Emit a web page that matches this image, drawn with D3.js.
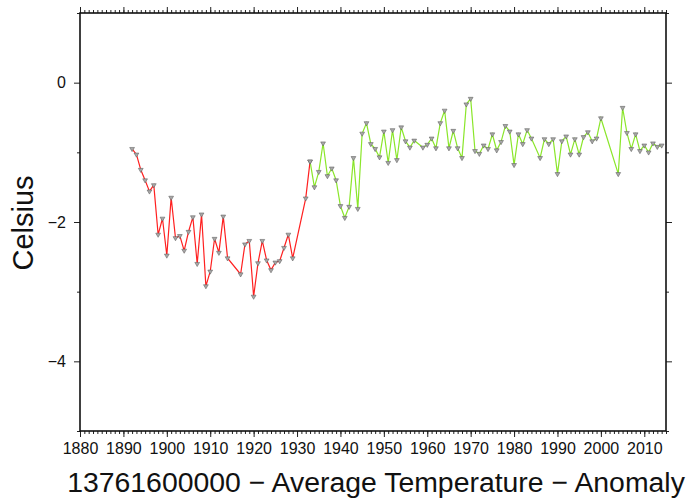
<!DOCTYPE html>
<html>
<head>
<meta charset="utf-8">
<script src="https://cdn.jsdelivr.net/npm/d3@7"></script>
<style>
  body{margin:0;background:#fff;}
  text{font-family:"Liberation Sans",Arial,Helvetica,sans-serif;fill:#111;}
</style>
</head>
<body>
<svg id="chart" width="686" height="502"></svg>
<script>
// 数据 - 红色段 (早期)
var redYears = [1892,1893,1894,1895,1896,1897,1898,1899,1900,1901,1902,1903,1904,1905,1906,1907,1908,1909,1910,1911,1912,1913,1914,
                1917,1918,1919,1920,1921,1922,1923,1924,1925,1926,1927,1928,1929,1932,1933];
var redTemps = [-0.95,-1.03,-1.25,-1.40,-1.56,-1.47,-2.18,-1.95,-2.48,-1.65,-2.23,-2.20,-2.41,-2.14,-1.93,-2.60,-1.89,-2.92,-2.71,-2.24,-2.44,-1.92,-2.52,
                -2.75,-2.32,-2.27,-3.07,-2.59,-2.27,-2.55,-2.69,-2.58,-2.56,-2.37,-2.18,-2.52,-1.66,-1.13];
// 数据 - 绿色段
var greenYears = [1933,1934,1935,1936,1937,1938,1939,1940,1941,1942,1943,1944,1945,1946,1947,1948,1949,1950,1951,1952,1953,1954,1955,1956,1957,
                  1959,1960,1961,1962,1963,1964,1965,1966,1967,1968,1969,1970,1971,1972,1973,1974,1975,1976,1977,1978,1979,1980,1981,1982,1983,1984,
                  1986,1987,1988,1989,1990,1991,1992,1993,1994,1995,1996,1997,1998,1999,2000,
                  2004,2005,2006,2007,2008,2009,2010,2011,2012,2013,2014];
var greenTemps = [-1.13,-1.50,-1.28,-0.87,-1.34,-1.23,-1.40,-1.77,-1.94,-1.78,-1.08,-1.81,-0.73,-0.58,-0.88,-0.95,-1.07,-0.70,-1.15,-0.68,-1.11,-0.64,-0.84,-0.93,-0.83,
                  -0.93,-0.89,-0.80,-0.94,-0.58,-0.40,-0.94,-0.69,-0.94,-1.08,-0.31,-0.23,-0.98,-1.02,-0.90,-0.95,-0.74,-0.97,-0.85,-0.62,-0.70,-1.18,-0.74,-0.88,-0.68,-0.80,
                  -1.08,-0.81,-0.88,-0.81,-1.31,-0.84,-0.77,-1.03,-0.81,-1.03,-0.78,-0.71,-0.84,-0.80,-0.51,
                  -1.31,-0.36,-0.72,-0.95,-0.74,-0.98,-0.90,-1.00,-0.87,-0.92,-0.90];

var xMajor = [1880,1890,1900,1910,1920,1930,1940,1950,1960,1970,1980,1990,2000,2010];
var yMajor = [0,-2,-4];
var yMinor = [1,-1,-3,-5];

var xLabel = "13761600000 \u2212 Average Temperature \u2212 Anomaly";
var yLabel = "Celsius";

var svg = d3.select('#chart');
var m = {left:80, right:20, top:13, bottom:71};
var W = 686 - m.left - m.right, H = 502 - m.top - m.bottom;

var x = d3.scaleLinear().domain([1880,2015]).range([0,W]);
var y = d3.scaleLinear().domain([-5,1]).range([H,0]);
var xMinor = d3.range(1880,2016);

var g = svg.append('g').attr('transform','translate('+m.left+','+m.top+')');

// 刻度
function styleAxis(sel){
  sel.select('.domain').remove();
  sel.selectAll('line').attr('stroke','#222').attr('stroke-width',1);
  sel.selectAll('text').attr('font-size','16px').attr('fill','#111');
}
g.append('g').attr('transform','translate(0,'+H+')')
  .call(d3.axisBottom(x).tickValues(xMinor).tickSize(3).tickFormat('')).call(styleAxis);
g.append('g').attr('transform','translate(0,'+H+')')
  .call(d3.axisBottom(x).tickValues(xMajor).tickSize(6).tickPadding(6).tickFormat(d3.format('d'))).call(styleAxis);
g.append('g')
  .call(d3.axisTop(x).tickValues(xMinor).tickSize(3).tickFormat('')).call(styleAxis);
g.append('g')
  .call(d3.axisTop(x).tickValues(xMajor).tickSize(6).tickFormat('')).call(styleAxis);
g.append('g')
  .call(d3.axisLeft(y).tickValues(yMinor).tickSize(3).tickFormat('')).call(styleAxis);
g.append('g')
  .call(d3.axisLeft(y).tickValues(yMajor).tickSize(6).tickPadding(8).tickFormat(d3.format('d'))).call(styleAxis);
g.append('g').attr('transform','translate('+W+',0)')
  .call(d3.axisRight(y).tickValues(yMinor).tickSize(3).tickFormat('')).call(styleAxis);
g.append('g').attr('transform','translate('+W+',0)')
  .call(d3.axisRight(y).tickValues(yMajor).tickSize(6).tickFormat('')).call(styleAxis);

// 边框
g.append('rect').attr('width',W).attr('height',H)
  .attr('fill','none').attr('stroke','#111').attr('stroke-width',1.6);

// 折线
var line = d3.line().x(function(d){return x(d[0]);}).y(function(d){return y(d[1]);});
function drawSeries(years,temps,color){
  var data = years.map(function(yr,i){return [yr,temps[i]];});
  g.append('path').datum(data)
    .attr('d',line).attr('fill','none')
    .attr('stroke',color).attr('stroke-width',1.2);
  return data;
}
var redData = drawSeries(redYears,redTemps,'#ff2020');
var greenData = drawSeries(greenYears,greenTemps,'#8ae62a');

// 倒三角标记
var tri = d3.symbol().type(d3.symbolTriangle).size(10);
g.selectAll('path.mk').data(redData.concat(greenData)).enter()
  .append('path').attr('class','mk')
  .attr('d',tri)
  .attr('transform',function(d){return 'translate('+x(d[0])+','+y(d[1])+') rotate(180)';})
  .attr('fill','#a8a8a8').attr('stroke','#555').attr('stroke-width',0.5);

// 标题
svg.append('text').attr('x',376).attr('y',492)
  .attr('text-anchor','middle').attr('font-size','28.4px').text(xLabel);
svg.append('text')
  .attr('transform','translate(33,223) rotate(-90)')
  .attr('text-anchor','middle').attr('font-size','29px').text(yLabel);
</script>
</body>
</html>
